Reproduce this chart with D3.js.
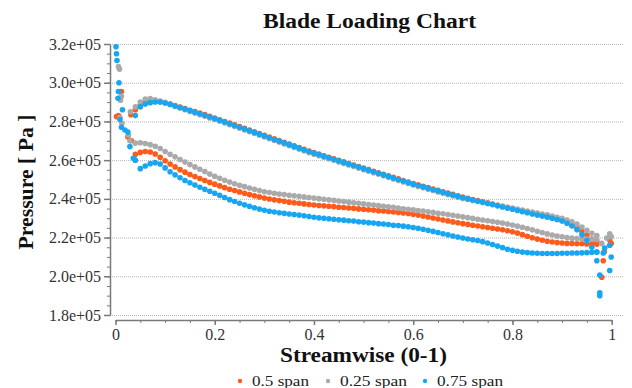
<!DOCTYPE html>
<html>
<head>
<meta charset="utf-8">
<script src="https://cdn.jsdelivr.net/npm/d3@7"></script>
<style>
  html, body { margin: 0; padding: 0; background: #fff; }
  svg { display: block; }
  svg text { font-family: "Liberation Serif", "Times New Roman", serif; }
</style>
</head>
<body>
<svg id="chart" width="632" height="388"></svg>
<script>
// pressure values are in units of 1e+05 Pa
const spans = ['0.5 span', '0.25 span', '0.75 span'];
const spanColors = ['#ff5a1a', '#aaaaaa', '#17a6f2'];

const yTicks = [1.8, 2.0, 2.2, 2.4, 2.6, 2.8, 3.0, 3.2];
const xTicks = [0, 0.2, 0.4, 0.6, 0.8, 1];

// streamwise stations shared by the pressure side and suction side curves
const stations = [
  0.04, 0.05, 0.06, 0.07, 0.08, 0.09, 0.10,
  0.11, 0.12, 0.13, 0.14, 0.15, 0.16, 0.17, 0.18, 0.19, 0.20,
  0.21, 0.22, 0.23, 0.24, 0.25, 0.26, 0.27, 0.28, 0.29, 0.30,
  0.31, 0.32, 0.33, 0.34, 0.35, 0.36, 0.37, 0.38, 0.39, 0.40,
  0.41, 0.42, 0.43, 0.44, 0.45, 0.46, 0.47, 0.48, 0.49, 0.50,
  0.51, 0.52, 0.53, 0.54, 0.55, 0.56, 0.57, 0.58, 0.59, 0.60,
  0.61, 0.62, 0.63, 0.64, 0.65, 0.66, 0.67, 0.68, 0.69, 0.70,
  0.71, 0.72, 0.73, 0.74, 0.75, 0.76, 0.77, 0.78, 0.79, 0.80,
  0.81, 0.82, 0.83, 0.84, 0.85, 0.86, 0.87, 0.88, 0.89, 0.90,
  0.91, 0.92, 0.93, 0.94, 0.95, 0.96, 0.97
];

// upper branch (pressure side)
const span50Upper = [
  2.860, 2.885, 2.900, 2.905, 2.905, 2.902, 2.897,
  2.890, 2.882, 2.874, 2.866, 2.858, 2.851, 2.843, 2.835, 2.826, 2.818,
  2.809, 2.800, 2.791, 2.782, 2.773, 2.764, 2.755, 2.746, 2.737, 2.728,
  2.719, 2.710, 2.701, 2.692, 2.683, 2.674, 2.665, 2.656, 2.647, 2.639,
  2.631, 2.623, 2.615, 2.607, 2.599, 2.591, 2.583, 2.575, 2.567, 2.559,
  2.551, 2.543, 2.535, 2.527, 2.519, 2.511, 2.503, 2.495, 2.487, 2.479,
  2.472, 2.465, 2.458, 2.451, 2.444, 2.437, 2.430, 2.423, 2.416, 2.409,
  2.403, 2.397, 2.391, 2.385, 2.379, 2.373, 2.367, 2.361, 2.355, 2.349,
  2.343, 2.337, 2.331, 2.325, 2.319, 2.314, 2.308, 2.302, 2.295, 2.287,
  2.277, 2.265, 2.250, 2.232, 2.212, 2.192, 2.178
];
const span25Upper = [
  2.875, 2.900, 2.915, 2.918, 2.912, 2.905, 2.898,
  2.889, 2.879, 2.869, 2.860, 2.851, 2.843, 2.835, 2.827, 2.818, 2.810,
  2.801, 2.792, 2.783, 2.774, 2.765, 2.756, 2.747, 2.738, 2.729, 2.720,
  2.711, 2.702, 2.693, 2.684, 2.675, 2.666, 2.657, 2.648, 2.639, 2.631,
  2.623, 2.615, 2.607, 2.599, 2.591, 2.583, 2.575, 2.567, 2.559, 2.551,
  2.543, 2.535, 2.527, 2.519, 2.511, 2.503, 2.495, 2.487, 2.479, 2.471,
  2.464, 2.457, 2.450, 2.443, 2.436, 2.429, 2.422, 2.415, 2.408, 2.402,
  2.397, 2.392, 2.387, 2.382, 2.377, 2.372, 2.367, 2.362, 2.357, 2.352,
  2.347, 2.342, 2.337, 2.332, 2.327, 2.322, 2.317, 2.311, 2.305, 2.299,
  2.291, 2.282, 2.270, 2.255, 2.238, 2.222, 2.210
];
const span75Upper = [
  2.830, 2.875, 2.890, 2.897, 2.900, 2.900, 2.895,
  2.888, 2.880, 2.872, 2.864, 2.856, 2.848, 2.840, 2.832, 2.823, 2.815,
  2.806, 2.797, 2.788, 2.779, 2.770, 2.761, 2.752, 2.743, 2.734, 2.725,
  2.716, 2.707, 2.698, 2.689, 2.680, 2.671, 2.662, 2.653, 2.644, 2.636,
  2.628, 2.620, 2.612, 2.604, 2.596, 2.588, 2.580, 2.572, 2.564, 2.556,
  2.548, 2.540, 2.532, 2.524, 2.516, 2.508, 2.500, 2.492, 2.484, 2.476,
  2.469, 2.462, 2.455, 2.448, 2.441, 2.434, 2.427, 2.420, 2.413, 2.406,
  2.400, 2.394, 2.388, 2.382, 2.376, 2.370, 2.364, 2.358, 2.352, 2.346,
  2.340, 2.334, 2.328, 2.322, 2.316, 2.311, 2.306, 2.300, 2.293, 2.285,
  2.274, 2.260, 2.240, 2.215, 2.185, 2.150, 2.125
];

// lower branch (suction side)
const span50Lower = [
  2.630, 2.640, 2.645, 2.642, 2.632, 2.615, 2.597,
  2.580, 2.565, 2.551, 2.538, 2.526, 2.515, 2.505, 2.495, 2.485, 2.476,
  2.467, 2.458, 2.450, 2.443, 2.436, 2.429, 2.422, 2.416, 2.410, 2.404,
  2.399, 2.395, 2.391, 2.387, 2.383, 2.380, 2.377, 2.374, 2.371, 2.368,
  2.366, 2.364, 2.362, 2.360, 2.357, 2.355, 2.353, 2.351, 2.348, 2.346,
  2.344, 2.342, 2.339, 2.337, 2.335, 2.332, 2.330, 2.327, 2.324, 2.320,
  2.316, 2.311, 2.306, 2.301, 2.296, 2.291, 2.286, 2.281, 2.276, 2.272,
  2.268, 2.264, 2.260, 2.256, 2.252, 2.248, 2.244, 2.240, 2.235, 2.230,
  2.223, 2.215, 2.207, 2.199, 2.192, 2.186, 2.181, 2.177, 2.174, 2.172,
  2.170, 2.169, 2.168, 2.168, 2.167, 2.167, 2.166
];
const span25Lower = [
  2.688, 2.690, 2.686, 2.680, 2.672, 2.660, 2.645,
  2.630, 2.617, 2.603, 2.590, 2.577, 2.565, 2.553, 2.541, 2.528, 2.516,
  2.506, 2.496, 2.487, 2.478, 2.470, 2.463, 2.456, 2.449, 2.443, 2.437,
  2.433, 2.429, 2.425, 2.422, 2.419, 2.416, 2.413, 2.410, 2.407, 2.404,
  2.401, 2.398, 2.395, 2.392, 2.389, 2.386, 2.383, 2.380, 2.377, 2.374,
  2.371, 2.368, 2.365, 2.362, 2.359, 2.356, 2.352, 2.349, 2.346, 2.343,
  2.340, 2.337, 2.333, 2.330, 2.326, 2.323, 2.319, 2.315, 2.311, 2.307,
  2.303, 2.299, 2.295, 2.291, 2.287, 2.283, 2.279, 2.275, 2.270, 2.265,
  2.259, 2.253, 2.247, 2.240, 2.233, 2.226, 2.219, 2.213, 2.208, 2.204,
  2.200, 2.197, 2.195, 2.193, 2.192, 2.191, 2.190
];
const span75Lower = [
  2.600, 2.556, 2.570, 2.582, 2.587, 2.580, 2.560,
  2.540, 2.524, 2.509, 2.495, 2.483, 2.471, 2.460, 2.449, 2.439, 2.429,
  2.418, 2.407, 2.396, 2.386, 2.377, 2.369, 2.361, 2.354, 2.347, 2.341,
  2.336, 2.332, 2.328, 2.325, 2.322, 2.319, 2.316, 2.313, 2.309, 2.305,
  2.302, 2.300, 2.297, 2.295, 2.292, 2.290, 2.287, 2.285, 2.282, 2.280,
  2.277, 2.275, 2.272, 2.270, 2.267, 2.264, 2.262, 2.259, 2.256, 2.252,
  2.248, 2.243, 2.238, 2.232, 2.226, 2.220, 2.214, 2.208, 2.203, 2.198,
  2.193, 2.189, 2.185, 2.179, 2.172, 2.164, 2.156, 2.148, 2.140, 2.134,
  2.129, 2.125, 2.122, 2.120, 2.119, 2.118, 2.118, 2.118, 2.118, 2.119,
  2.119, 2.120, 2.120, 2.121, 2.122, 2.124, 2.125
];

// scattered points at the leading and trailing edges, [streamwise, pressure]
const span50Edges = [
  [0.002, 2.825], [0.012, 2.955], [0.006, 2.830], [0.025, 2.720], [0.032, 2.700],
  [0.031, 2.835], [0.980, 1.995], [0.983, 2.080], [0.985, 2.127], [0.996, 2.187], [0.999, 2.170]
];
const span25Edges = [
  [0.006, 3.083], [0.008, 3.070], [0.012, 2.930], [0.010, 2.910], [0.009, 2.820],
  [0.013, 2.790], [0.026, 2.730], [0.029, 2.700], [0.030, 2.850],
  [0.980, 2.170], [0.990, 2.198], [0.996, 2.220], [0.999, 2.205]
];
const span75Edges = [
  [0.001, 3.186], [0.002, 3.150], [0.003, 3.115], [0.007, 3.000], [0.006, 2.955],
  [0.005, 2.920], [0.014, 2.860], [0.009, 2.810], [0.012, 2.770], [0.019, 2.756],
  [0.025, 2.745], [0.029, 2.670], [0.036, 2.610],
  [0.970, 2.080], [0.976, 2.007], [0.976, 1.900], [0.976, 1.915], [0.983, 2.120],
  [0.986, 2.146], [0.996, 2.160], [0.996, 2.030], [0.999, 2.100]
];

const upper = [span50Upper, span25Upper, span75Upper];
const lower = [span50Lower, span25Lower, span75Lower];
const edges = [span50Edges, span25Edges, span75Edges];

const serif = '"Liberation Serif", "Times New Roman", serif';
const svg = d3.select('#chart');

const x = d3.scaleLinear().domain([0, 1]).range([115.5, 611.7]);
const y = d3.scaleLinear().domain([1.8, 3.2]).range([315, 44]);

// dotted horizontal grid
svg.append('g')
    .attr('transform', 'translate(110, 0)')
    .call(d3.axisRight(y).tickValues(yTicks).tickSize(513).tickFormat(''))
    .call(g => g.select('.domain').remove())
    .selectAll('.tick line')
    .attr('stroke', '#b4b4b4')
    .attr('stroke-dasharray', '1,1');

// y axis, minor ticks every 0.05e+05
svg.append('g')
    .attr('transform', 'translate(110, 0)')
    .call(d3.axisLeft(y).tickValues(d3.range(1.8, 3.2001, 0.05)).tickSize(3).tickSizeOuter(0).tickFormat(''))
    .call(g => g.select('.domain').attr('stroke', '#7a7a7a').attr('stroke-width', 1.5))
    .selectAll('.tick line')
    .attr('stroke', '#7a7a7a');

const yAxis = svg.append('g')
    .attr('transform', 'translate(110, 0)')
    .call(d3.axisLeft(y).tickValues(yTicks).tickSize(6).tickPadding(3).tickSizeOuter(0)
        .tickFormat(d => d.toFixed(1) + 'e+05'))
    .attr('font-family', serif)
    .attr('font-size', 16);
yAxis.select('.domain').remove();
yAxis.selectAll('.tick line').attr('stroke', '#7a7a7a').attr('stroke-width', 1.5);
yAxis.selectAll('.tick text').attr('fill', '#333');

// x axis sits a little below the plot
svg.append('g')
    .attr('transform', 'translate(0, 320)')
    .call(d3.axisBottom(x).tickValues(d3.range(0, 1.001, 0.05)).tickSize(3).tickSizeOuter(0).tickFormat(''))
    .call(g => g.select('.domain').attr('stroke', '#7a7a7a').attr('stroke-width', 1.5))
    .selectAll('.tick line')
    .attr('stroke', '#7a7a7a');

const xAxis = svg.append('g')
    .attr('transform', 'translate(0, 320)')
    .call(d3.axisBottom(x).tickValues(xTicks).tickSize(5).tickPadding(4).tickSizeOuter(0)
        .tickFormat(d => String(+d.toFixed(1))))
    .attr('font-family', serif)
    .attr('font-size', 16);
xAxis.select('.domain').remove();
xAxis.selectAll('.tick line').attr('stroke', '#7a7a7a').attr('stroke-width', 1.5);
xAxis.selectAll('.tick text').attr('fill', '#333');

// points for each span
spans.forEach((name, i) => {
    const pts = stations.map((s, j) => [s, upper[i][j]])
        .concat(stations.map((s, j) => [s, lower[i][j]]))
        .concat(edges[i]);

    svg.append('g')
        .attr('fill', spanColors[i])
        .selectAll('circle')
        .data(pts)
        .enter()
        .append('circle')
        .attr('cx', d => x(d[0]))
        .attr('cy', d => y(d[1]))
        .attr('r', 2.8);
});

// titles (the source image is a bit stretched sideways, so widths are fixed)
svg.append('text')
    .text('Blade Loading Chart')
    .attr('x', 369.5)
    .attr('y', 28)
    .attr('text-anchor', 'middle')
    .attr('font-weight', 'bold')
    .attr('font-size', '20px')
    .attr('textLength', 213)
    .attr('lengthAdjust', 'spacingAndGlyphs')
    .attr('fill', '#111');

svg.append('text')
    .text('Streamwise (0-1)')
    .attr('x', 363.5)
    .attr('y', 362)
    .attr('text-anchor', 'middle')
    .attr('font-weight', 'bold')
    .attr('font-size', '20px')
    .attr('textLength', 167)
    .attr('lengthAdjust', 'spacingAndGlyphs')
    .attr('fill', '#111');

svg.append('text')
    .text('Pressure [ Pa ]')
    .attr('transform', 'translate(33, 182) rotate(-90)')
    .attr('text-anchor', 'middle')
    .attr('font-weight', 'bold')
    .attr('font-size', '20px')
    .attr('textLength', 135)
    .attr('lengthAdjust', 'spacingAndGlyphs')
    .attr('fill', '#111');

// legend
const legendX = [240, 328, 425];
const legendLen = [57, 67, 66];
const legend = svg.append('g').attr('font-family', serif);
spans.forEach((name, i) => {
    legend.append('circle')
        .attr('cx', legendX[i])
        .attr('cy', 381)
        .attr('r', 2.2)
        .attr('fill', spanColors[i]);
    legend.append('text')
        .text(name)
        .attr('x', legendX[i] + 12)
        .attr('y', 386)
        .attr('font-size', '15px')
        .attr('textLength', legendLen[i])
        .attr('lengthAdjust', 'spacingAndGlyphs')
        .attr('fill', '#222');
});
</script>
</body>
</html>
